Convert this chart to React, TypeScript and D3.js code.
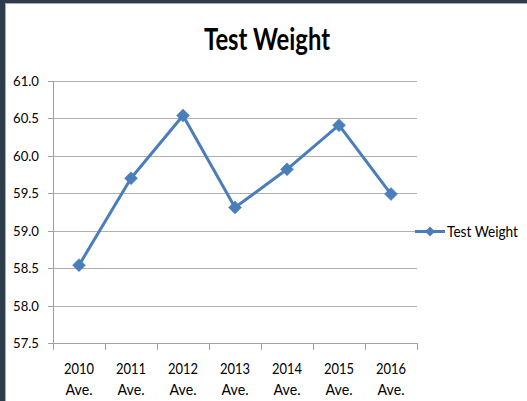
import React from "react";
import * as d3 from "d3";

const categories = ["2010", "2011", "2012", "2013", "2014", "2015", "2016"];
const values = [58.54, 59.7, 60.54, 59.31, 59.82, 60.41, 59.49];
const yTicks = [57.5, 58.0, 58.5, 59.0, 59.5, 60.0, 60.5, 61.0];
const seriesName = "Test Weight";
const title = "Test Weight";

const W = 527;
const H = 401;
const FONT = "Lato, 'Open Sans', sans-serif";
const BLUE = "#4a7ebb";

export default function App() {
  const x = d3.scaleBand<string>().domain(categories).range([53, 417]).padding(0);
  const y = d3.scaleLinear().domain([57.5, 61]).range([343, 81]);
  const cx = (c: string) => (x(c) ?? 0) + x.bandwidth() / 2;
  const line = d3
    .line<number>()
    .x((_, i) => cx(categories[i]))
    .y((v) => y(v));
  const diamond = (px: number, py: number, r: number) =>
    `M${px},${py - r}L${px + r},${py}L${px},${py + r}L${px - r},${py}Z`;
  const bounds = [...categories.map((c) => x(c) ?? 0), 417];

  return (
    <div style={{ position: "fixed", left: 0, top: 0 }}>
      <svg width={W} height={H} style={{ display: "block" }}>
        <rect x={0} y={0} width={W} height={H} fill="#ffffff" />
        <rect x={0} y={0} width={W} height={3} fill="#2e3d4b" />
        <rect x={0} y={0} width={5} height={H} fill="#2e3d4b" />
        <line x1={5} x2={W} y1={3.5} y2={3.5} stroke="#a9adb2" />
        <line x1={5.5} x2={5.5} y1={3} y2={H} stroke="#a9adb2" />

        <text
          x={267}
          y={50}
          textAnchor="middle"
          fontFamily={FONT}
          fontWeight={700}
          fontSize={30}
          textLength={126}
          lengthAdjust="spacingAndGlyphs"
          fill="#000"
        >
          {title}
        </text>

        {yTicks.map((t) => (
          <g key={t}>
            <line x1={53} x2={417} y1={Math.round(y(t)) + 0.5} y2={Math.round(y(t)) + 0.5} stroke="#b0b0b0" />
            <line x1={48} x2={53} y1={Math.round(y(t)) + 0.5} y2={Math.round(y(t)) + 0.5} stroke="#a0a0a0" />
            <text
              x={39}
              y={y(t) + 5}
              textAnchor="end"
              fontFamily={FONT}
              fontSize={14}
              textLength={26}
              lengthAdjust="spacingAndGlyphs"
              fill="#000"
            >
              {t.toFixed(1)}
            </text>
          </g>
        ))}
        <line x1={53.5} x2={53.5} y1={81} y2={343} stroke="#a0a0a0" />
        <line x1={53} x2={417} y1={343.5} y2={343.5} stroke="#a0a0a0" />
        {bounds.map((b, i) => (
          <line key={i} x1={Math.round(b) + 0.5} x2={Math.round(b) + 0.5} y1={343} y2={350} stroke="#a0a0a0" />
        ))}
        {categories.map((c) => (
          <g key={c}>
            <text
              x={cx(c)}
              y={374}
              textAnchor="middle"
              fontFamily={FONT}
              fontSize={16}
              textLength={30}
              lengthAdjust="spacingAndGlyphs"
              fill="#000"
            >
              {c}
            </text>
            <text
              x={cx(c)}
              y={395}
              textAnchor="middle"
              fontFamily={FONT}
              fontSize={16}
              textLength={27}
              lengthAdjust="spacingAndGlyphs"
              fill="#000"
            >
              Ave.
            </text>
          </g>
        ))}

        <path d={line(values) ?? ""} fill="none" stroke={BLUE} strokeWidth={3} strokeLinejoin="round" />
        {values.map((v, i) => (
          <path key={i} d={diamond(cx(categories[i]), y(v), 6.5)} fill={BLUE} stroke={BLUE} strokeWidth={0.5} />
        ))}

        <line x1={415} x2={445} y1={231.5} y2={231.5} stroke={BLUE} strokeWidth={3} />
        <path d={diamond(430, 231.5, 5)} fill={BLUE} />
        <text
          x={447}
          y={237}
          fontFamily={FONT}
          fontSize={15}
          textLength={71}
          lengthAdjust="spacingAndGlyphs"
          fill="#000"
        >
          {seriesName}
        </text>
      </svg>
    </div>
  );
}
